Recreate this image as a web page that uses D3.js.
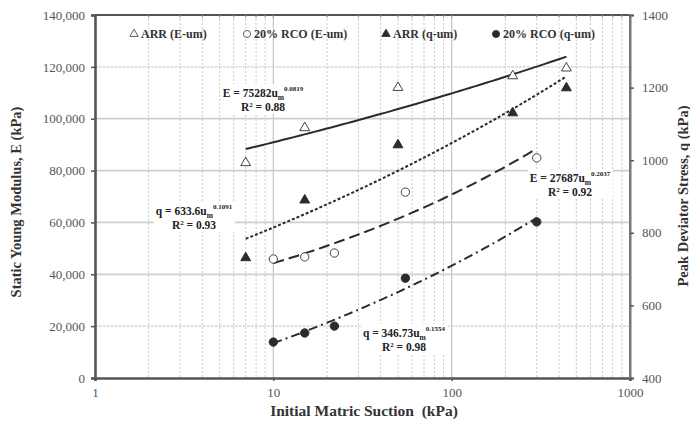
<!DOCTYPE html>
<html>
<head>
<meta charset="utf-8">
<script src="https://cdn.jsdelivr.net/npm/d3@7"></script>
<style>
  html, body { margin: 0; padding: 0; background: #fff; }
  svg { display: block; }
  text { font-family: "Liberation Serif", "Times New Roman", serif; }
</style>
</head>
<body>
<svg id="chart" width="690" height="423"></svg>
<script>
// Initial matric suction (kPa) for each specimen group
const suctionARR = [7, 15, 50, 220, 440];
const suctionRCO = [10, 15, 22, 55, 300];

// Static Young modulus E (kPa), left axis
const modulusARR = [83000, 96500, 112000, 116500, 119500];
const modulusRCO = [45900, 46700, 48200, 71700, 84900];

// Peak deviator stress q (kPa), right axis
const stressARR = [731, 890, 1042, 1130, 1199];
const stressRCO = [499, 524, 543, 675, 830];

// Power-law fits: coefficient, exponent, R², suction range
const fitNames = ["E-ARR", "q-ARR", "E-RCO", "q-RCO"];
const fitSymbols = ["E", "q", "E", "q"];
const fitCoefs = ["75282", "633.6", "27687", "346.73"];
const fitExps = ["0.0819", "0.1091", "0.2037", "0.1554"];
const fitR2 = ["0.88", "0.93", "0.92", "0.98"];
const fitFrom = [7, 7, 10, 10];
const fitTo = [440, 440, 300, 300];

// Tick labels
const xTicks = [1, 10, 100, 1000];
const leftTicks = [0, 20000, 40000, 60000, 80000, 100000, 120000, 140000];
const rightTicks = [400, 600, 800, 1000, 1200, 1400];

// Legend entries
const legendLabels = ["ARR (E-um)", "20% RCO (E-um)", "ARR (q-um)", "20% RCO (q-um)"];

const svg = d3.select("#chart");
const m = { left: 95, right: 630, top: 15, bottom: 378 };

const x = d3.scaleLog().domain([1, 1000]).range([m.left, m.right]);
const yL = d3.scaleLinear().domain([0, 140000]).range([m.bottom, m.top]);
const yR = d3.scaleLinear().domain([400, 1400]).range([m.bottom, m.top]);

const ink = "#2b2b2b";
const axisInk = "#555";

// vertical grid (log decades: solid majors, dotted minors)
const minor = [];
for (let d = 1; d < 1000; d *= 10) for (let k = 2; k <= 9; k++) minor.push(d * k);
svg.append("g").selectAll("line").data(minor).join("line")
  .attr("x1", d => x(d)).attr("x2", d => x(d))
  .attr("y1", m.top).attr("y2", m.bottom)
  .attr("stroke", "#c8c8c8").attr("stroke-width", 1).attr("stroke-dasharray", "2,2");
svg.append("g").selectAll("line").data([10, 100]).join("line")
  .attr("x1", d => x(d)).attr("x2", d => x(d))
  .attr("y1", m.top).attr("y2", m.bottom)
  .attr("stroke", "#c4c4c4").attr("stroke-width", 1.2);

// horizontal grid from the left axis
svg.append("g").selectAll("line").data(leftTicks.slice(1, -1)).join("line")
  .attr("x1", m.left).attr("x2", m.right)
  .attr("y1", d => yL(d)).attr("y2", d => yL(d))
  .attr("stroke", "#cfcfcf")
  .attr("stroke-width", d => (d === 20000 || d === 120000) ? 1.2 : 1.8)
  .attr("stroke-dasharray", d => (d === 20000 || d === 120000) ? "3,1" : null);

// frame
svg.append("line").attr("x1", m.left).attr("x2", m.right).attr("y1", m.top).attr("y2", m.top)
  .attr("stroke", axisInk).attr("stroke-width", 2.2);
svg.append("line").attr("x1", m.right).attr("x2", m.right).attr("y1", m.top).attr("y2", m.bottom)
  .attr("stroke", "#777").attr("stroke-width", 2);

// axes
const fmt = d3.format(",");
const axB = svg.append("g").attr("transform", `translate(0,${m.bottom})`)
  .call(d3.axisBottom(x).tickValues(xTicks).tickFormat(d3.format("d")).tickSize(3).tickPadding(7));
const axL = svg.append("g").attr("transform", `translate(${m.left},0)`)
  .call(d3.axisLeft(yL).tickValues(leftTicks).tickFormat(fmt).tickSize(4).tickPadding(6));
const axR = svg.append("g").attr("transform", `translate(${m.right},0)`)
  .call(d3.axisRight(yR).tickValues(rightTicks).tickFormat(d3.format("d")).tickSize(4).tickPadding(8));
[axB, axL, axR].forEach(g => {
  g.attr("font-family", null);
  g.selectAll("text").attr("font-size", 13).attr("fill", "#555");
  g.selectAll(".tick line").attr("stroke", axisInk).attr("stroke-width", 1.5);
});
axB.select(".domain").attr("stroke", axisInk).attr("stroke-width", 2.6);
axL.select(".domain").attr("stroke", axisInk).attr("stroke-width", 2.6);
axR.select(".domain").attr("stroke", "#777").attr("stroke-width", 2);

// small top ticks
svg.append("g").selectAll("line").data(minor.concat([10, 100])).join("line")
  .attr("x1", d => x(d)).attr("x2", d => x(d))
  .attr("y1", m.top).attr("y2", m.top + 3)
  .attr("stroke", "#999").attr("stroke-width", 1);

// axis titles
svg.append("text").attr("transform", "translate(21,202) rotate(-90)")
  .attr("text-anchor", "middle").attr("font-weight", "bold").attr("font-size", 14.5).attr("fill", "#333")
  .text("Static Young Modulus, E (kPa)");
svg.append("text").attr("transform", "translate(688,196) rotate(-90)")
  .attr("text-anchor", "middle").attr("font-weight", "bold").attr("font-size", 14.5).attr("fill", "#333")
  .text("Peak Deviator Stress, q (kPa)");
svg.append("text").attr("x", 364).attr("y", 416)
  .attr("text-anchor", "middle").attr("font-weight", "bold").attr("font-size", 15.5).attr("fill", "#333")
  .attr("xml:space", "preserve")
  .text("Initial Matric Suction  (kPa)");

// fitted power-law curves
const dashes = [null, "3,2", "11,5", "9,4,2,4"];
const scalesFor = [yL, yR, yL, yR];
fitNames.forEach((name, i) => {
  const a = +fitCoefs[i], b = +fitExps[i];
  const pts = d3.range(0, 61).map(k => {
    const u = Math.exp(Math.log(fitFrom[i]) + (Math.log(fitTo[i]) - Math.log(fitFrom[i])) * k / 60);
    return [u, a * Math.pow(u, b)];
  });
  svg.append("path").datum(pts)
    .attr("d", d3.line().x(p => x(p[0])).y(p => scalesFor[i](p[1])))
    .attr("fill", "none").attr("stroke", ink).attr("stroke-width", 2)
    .attr("stroke-dasharray", dashes[i]);
});

// markers
const tri = d3.symbol().type(d3.symbolTriangle).size(42);
const circ = d3.symbol().type(d3.symbolCircle).size(55);
function plot(xs, ys, yScale, sym, filled) {
  svg.append("g").selectAll("path").data(xs.map((u, i) => [u, ys[i]])).join("path")
    .attr("transform", p => `translate(${x(p[0])},${yScale(p[1])})`)
    .attr("d", sym)
    .attr("fill", filled ? ink : "#fff")
    .attr("stroke", filled ? ink : "#444").attr("stroke-width", 1);
}
plot(suctionARR, modulusARR, yL, tri, false);
plot(suctionRCO, modulusRCO, yL, circ, false);
plot(suctionARR, stressARR, yR, tri, true);
plot(suctionRCO, stressRCO, yR, circ, true);

// equation labels with white backing
const eqPos = [[263, 97], [194, 215], [570, 182], [404, 337]];
fitNames.forEach((name, i) => {
  const g = svg.append("g").attr("transform", `translate(${eqPos[i][0]},${eqPos[i][1]})`);
  const bg = g.append("rect").attr("fill", "#fff");
  const t1 = g.append("text").attr("text-anchor", "middle").attr("font-weight", "bold")
    .attr("font-size", 11.5).attr("fill", "#222");
  t1.append("tspan").text(`${fitSymbols[i]} = ${fitCoefs[i]}u`);
  t1.append("tspan").attr("font-size", 7.5).attr("dy", 3).text("m");
  t1.append("tspan").attr("font-size", 7).attr("dy", -9).text(fitExps[i]);
  const t2 = g.append("text").attr("y", 14).attr("text-anchor", "middle").attr("font-weight", "bold")
    .attr("font-size", 11.5).attr("fill", "#222");
  t2.append("tspan").text("R");
  t2.append("tspan").attr("font-size", 7).attr("dy", -4).text("2");
  t2.append("tspan").attr("dy", 4).text(" = " + fitR2[i]);
  const bb = g.node().getBBox();
  bg.attr("x", bb.x - 2).attr("y", bb.y - 1).attr("width", bb.width + 4).attr("height", bb.height + 2);
});

// legend
const legX = [131, 244, 383, 493];
const legSyms = [tri, circ, tri, circ];
const legFill = [false, false, true, true];
legendLabels.forEach((lab, i) => {
  const g = svg.append("g").attr("transform", `translate(${legX[i]},38)`);
  g.append("path").attr("d", legSyms[i]).attr("transform", "translate(3,-4) scale(0.85)")
    .attr("fill", legFill[i] ? ink : "#fff").attr("stroke", legFill[i] ? ink : "#444").attr("stroke-width", 1);
  g.append("text").attr("x", 10).attr("font-weight", "bold").attr("font-size", 12)
    .attr("fill", "#333").text(lab);
});
</script>
</body>
</html>
